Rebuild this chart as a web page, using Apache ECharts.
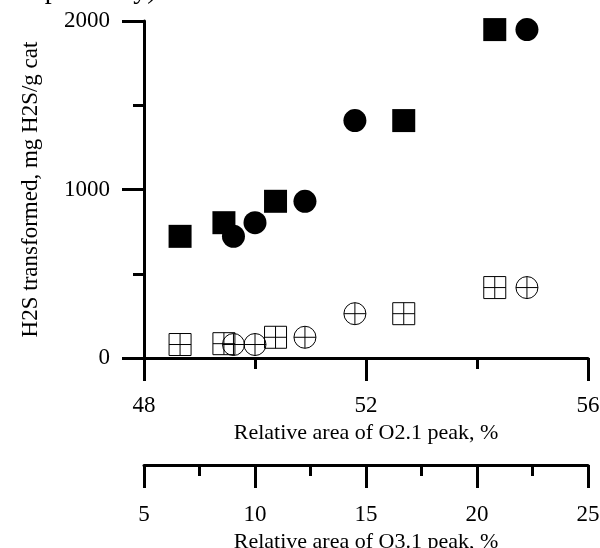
<!DOCTYPE html>
<html>
<head>
<meta charset="utf-8">
<script src="https://cdn.jsdelivr.net/npm/echarts@6/dist/echarts.min.js"></script>
<style>
  html, body { margin: 0; padding: 0; background: #fff; }
  #chart { width: 600px; height: 548px; }
</style>
</head>
<body>
<div id="chart"></div>
<script>
// relative peak areas (%)
const o21Peak = [48.65, 49.44, 50.37, 52.68, 54.32];
const o31Peak = [9.03, 10.0, 12.25, 14.5, 22.25];

// H2S transformed, mg H2S/g cat
const h2sSquaresFilled = [722, 803, 930, 1409, 1949];
const h2sCirclesFilled = [722, 803, 930, 1409, 1949];
const h2sSquaresOpen = [80, 85, 123, 263, 418];
const h2sCirclesOpen = [80, 80, 123, 263, 418];

const font = 'Liberation Serif';
const black = '#000';

const squareCross = 'path://M0 0 H20 V20 H0 Z M10 0 V20 M0 10 H20';
const circleCross = 'path://M0 10 A10 10 0 1 1 20 10 A10 10 0 1 1 0 10 Z M10 0 V20 M0 10 H20';

function pairs(xs, ys) {
  return xs.map((x, i) => [x, ys[i]]);
}

function axisBase(extra) {
  return Object.assign({
    type: 'value',
    axisLine: { show: true, lineStyle: { color: black, width: 3 } },
    axisTick: { show: true, length: 23, lineStyle: { color: black, width: 3 } },
    minorTick: { show: true, splitNumber: 2, length: 11, lineStyle: { color: black, width: 3 } },
    splitLine: { show: false },
    minorSplitLine: { show: false },
    nameTextStyle: { color: black, fontFamily: font, fontSize: 22 },
    nameLocation: 'middle'
  }, extra);
}

function labels(margin) {
  return { color: black, fontFamily: font, fontSize: 23, margin: margin, formatter: v => String(v) };
}

const chart = echarts.init(document.getElementById('chart'));

chart.setOption({
  animation: false,
  backgroundColor: '#fff',
  grid: { left: 144, right: 12, top: 21, bottom: 190, containLabel: false, outerBoundsMode: 'none' },
  graphic: [{
    type: 'text',
    left: 12,
    top: -23,
    style: { text: 'respectively).', fill: black, font: '28px "Liberation Serif"' }
  }],
  xAxis: [
    axisBase({
      min: 48, max: 56, interval: 4,
      position: 'bottom',
      name: 'Relative area of O2.1 peak, %',
      nameGap: 62,
      axisLabel: labels(36)
    }),
    axisBase({
      min: 5, max: 25, interval: 5,
      position: 'bottom',
      offset: 107,
      name: 'Relative area of O3.1 peak, %',
      nameGap: 62,
      axisLabel: labels(38)
    })
  ],
  yAxis: axisBase({
    min: 0, max: 2000, interval: 1000,
    axisTick: { show: true, length: 22, lineStyle: { color: black, width: 3 } },
    name: 'H2S transformed, mg H2S/g cat',
    nameGap: 102,
    nameTextStyle: { color: black, fontFamily: font, fontSize: 23 },
    axisLabel: labels(34)
  }),
  series: [
    {
      type: 'scatter', xAxisIndex: 0,
      symbol: 'rect', symbolSize: 23,
      itemStyle: { color: black, opacity: 1 },
      data: pairs(o21Peak, h2sSquaresFilled)
    },
    {
      type: 'scatter', xAxisIndex: 0,
      symbol: squareCross, symbolSize: 22,
      itemStyle: { color: 'transparent', borderColor: black, borderWidth: 1, opacity: 1 },
      data: pairs(o21Peak, h2sSquaresOpen)
    },
    {
      type: 'scatter', xAxisIndex: 1,
      symbol: 'circle', symbolSize: 23,
      itemStyle: { color: black, opacity: 1 },
      data: pairs(o31Peak, h2sCirclesFilled)
    },
    {
      type: 'scatter', xAxisIndex: 1,
      symbol: circleCross, symbolSize: 22,
      itemStyle: { color: 'transparent', borderColor: black, borderWidth: 1, opacity: 1 },
      data: pairs(o31Peak, h2sCirclesOpen)
    }
  ]
});
</script>
</body>
</html>
